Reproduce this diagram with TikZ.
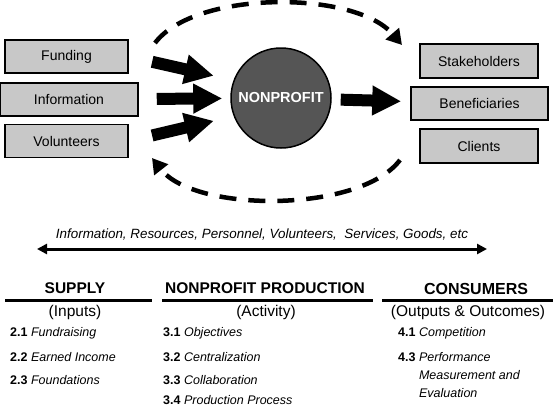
\documentclass[tikz,border=0pt]{standalone}
\usepackage{fontspec}
\setmainfont{Liberation Sans}
\usetikzlibrary{arrows.meta, positioning, calc}
\definecolor{boxgray}{RGB}{200,200,200}
\definecolor{coregray}{RGB}{85,85,85}

\begin{document}
\begin{tikzpicture}[x=1pt, y=-1pt, >={Triangle[length=10pt, width=10pt]},
    box/.style={draw, line width=1.5pt, fill=boxgray, minimum width=123pt, minimum height=33pt, inner sep=0pt, font=\fontsize{14}{16}\selectfont},
    fat/.style={line width=12pt, -{Triangle[length=29pt, width=28pt]}},
    cycleline/.style={line width=4.5pt, dash pattern=on 17pt off 12pt, -{Triangle[length=15pt, width=17pt]}},
    colhead/.style={font=\fontsize{15.5}{18}\bfseries\selectfont},
    colsub/.style={font=\fontsize{15.5}{18}\selectfont},
    item/.style={anchor=west, inner sep=0pt, font=\fontsize{12.5}{15}\selectfont}]
    \useasboundingbox (0,0) rectangle (553,407);

    % Inputs (left)
    \node[box] (fund) at (66.5,56.5) {Funding};
    \node[box, minimum width=138pt] (info) at (69,99.5) {Information};
    \node[box] (vol) at (66.5,141) {Volunteers};

    % The nonprofit
    \node[circle, draw, line width=1.5pt, fill=coregray, minimum size=100pt, text=white, font=\fontsize{14.5}{17}\bfseries\selectfont] (np) at (281,98) {NONPROFIT};

    % Outputs (right)
    \node[box, minimum width=118pt, minimum height=34pt] (stake) at (479,61) {Stakeholders};
    \node[box, minimum width=137pt] (bene) at (479.5,103.5) {Beneficiaries};
    \node[box, minimum width=118pt, minimum height=34pt] (client) at (479,146) {Clients};

    % Flow arrows
    \draw[fat, shorten <=24pt, shorten >=69pt] (fund.east) -- ($(np)+(0,-7)$);
    \draw[fat, shorten <=18pt, shorten >=8pt] (info) -- (np);
    \draw[fat, shorten <=24pt, shorten >=69pt] (vol.east) -- ($(np)+(0,7)$);
    \draw[fat, shorten <=9pt, shorten >=9pt] (np) -- (bene);

    % Feedback loop (dashed)
    \coordinate (topstart) at (155,43);
    \coordinate (topend) at (402,45);
    \coordinate (botstart) at (400,160);
    \coordinate (botend) at (152,158);
    \draw[cycleline] (topstart) .. controls (195,-10) and (355,-10) .. (topend);
    \draw[cycleline] (botstart) .. controls (360,213) and (195,213) .. (botend);

    % Exchange line
    \coordinate (exleft) at (37,249);
    \coordinate (exright) at (487,249);
    \draw[<->, line width=3pt] (exleft) -- (exright)
        node[midway, above=4pt, font=\fontsize{13.4}{15}\itshape\selectfont] (exchange) {Information, Resources, Personnel, Volunteers,\ \ Services, Goods, etc};

    % Column headers
    \node[colhead] (supply) at (75,288.5) {SUPPLY};
    \node[colhead] (prod) at (265,288.5) {NONPROFIT PRODUCTION};
    \node[colhead, font=\fontsize{16}{18}\bfseries\selectfont] (cons) at (476,288.5) {CONSUMERS};
    \draw[line width=3pt] (5,300) -- (152,300);
    \draw[line width=3pt] (162,300) -- (373,300);
    \draw[line width=3pt] (382,300) -- (553,300);

    \node[colsub] (inputs) at (75,312.5) {(Inputs)};
    \node[colsub] (activity) at (266,312.5) {(Activity)};
    \node[colsub] (outputs) at (468,312.5) {(Outputs \& Outcomes)};

    % Supply items
    \node[item] (s1) at (10,333) {\textbf{2.1} \textit{Fundraising}};
    \node[item] (s2) at (10,357) {\textbf{2.2} \textit{Earned Income}};
    \node[item] (s3) at (10,380) {\textbf{2.3} \textit{Foundations}};

    % Production items
    \node[item] (p1) at (163,333) {\textbf{3.1} \textit{Objectives}};
    \node[item] (p2) at (163,357) {\textbf{3.2} \textit{Centralization}};
    \node[item] (p3) at (163,380) {\textbf{3.3} \textit{Collaboration}};
    \node[item] (p4) at (163,400) {\textbf{3.4} \textit{Production Process}};

    % Consumer items
    \node[item] (c1) at (398,333) {\textbf{4.1} \textit{Competition}};
    \node[item, anchor=north west] (c2) at (398,349) {\textbf{4.3} \renewcommand{\arraystretch}{1.2}\begin{tabular}[t]{@{}l@{}}\textit{Performance}\\ \textit{Measurement and}\\ \textit{Evaluation}\end{tabular}};
\end{tikzpicture}
\end{document}
